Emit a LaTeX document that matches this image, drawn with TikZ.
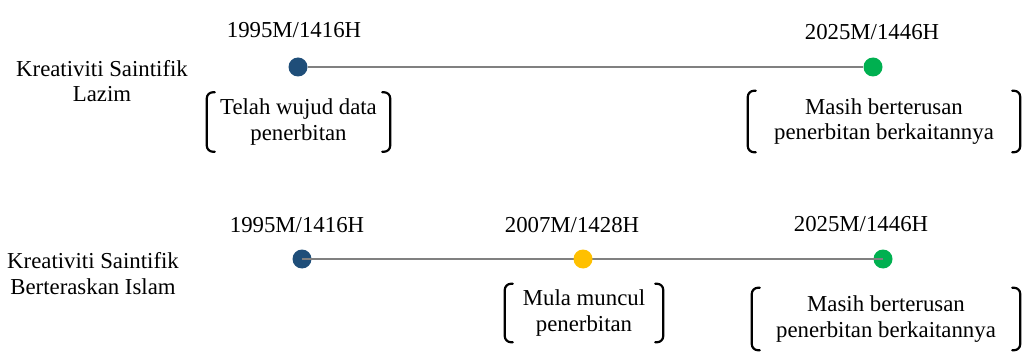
\documentclass[tikz,border=0pt]{standalone}
\usepackage{fontspec}
\setmainfont{Liberation Serif}
\usetikzlibrary{positioning}
\definecolor{biru}{HTML}{1F4E79}
\definecolor{hijau}{HTML}{00B050}
\definecolor{kuning}{HTML}{FFC000}
\definecolor{kelabu}{HTML}{808080}
\tikzset{titik/.style={circle, inner sep=0pt, minimum size=19pt, fill=#1}}
\tikzset{garis/.style={draw=kelabu, line width=2.5pt}}
\tikzset{teks0/.style={inner sep=0pt, align=center, font=\fontsize{22.8}{25.5}\selectfont}}
\tikzset{isi/.style args={#1/#2}{teks0, minimum width=#1, minimum height=#2}}
\tikzset{kurung/.style={draw, line width=2.2pt, rounded corners=6pt, line cap=round}}

\begin{document}
\begin{tikzpicture}[x=1pt,y=1pt]
			\useasboundingbox (0,0) rectangle (1022,351);
			% baris pertama
			\node[teks0] (n1) at (102,270) {Kreativiti Saintifik\\Lazim};
			\node[titik=biru] (b1) at (298,284) {};
			\node[titik=hijau] (g1) at (873,284) {};
			\draw[garis] (b1) -- (g1);
			\node[teks0] (t1) at (294,321) {1995M/1416H};
			\node[teks0] (t2) at (872,318.5) {2025M/1446H};
			\node[isi=183pt/59pt] (k1) at (298.5,229) {Telah wujud data\\penerbitan};
			\node[isi=272pt/61pt] (k2) at (884,229.5) {Masih berterusan\\penerbitan berkaitannya};
			% baris kedua
			\node[teks0] (n2) at (93,77.5) {Kreativiti Saintifik\\Berteraskan Islam};
			\node[titik=biru] (b2) at (302,92) {};
			\node[titik=hijau] (g2) at (883,92) {};
			\draw[garis] (b2.center) -- (g2.center);
			\node[titik=kuning] (y2) at (583,92) {};
			\node[teks0] (t3) at (297,125.5) {1995M/1416H};
			\node[teks0] (t4) at (572,125.5) {2007M/1428H};
			\node[teks0] (t5) at (861,126.5) {2025M/1446H};
			\node[isi=158pt/58pt] (k3) at (584,38) {Mula muncul\\penerbitan};
			\node[isi=268pt/62pt] (k4) at (886,32) {Masih berterusan\\penerbitan berkaitannya};
			% kurungan
			\foreach \k in {k1,k2,k3,k4} {
				\draw[kurung] ([xshift=8pt]\k.north west) -- (\k.north west) -- (\k.south west) -- ([xshift=8pt]\k.south west);
				\draw[kurung] ([xshift=-8pt]\k.north east) -- (\k.north east) -- (\k.south east) -- ([xshift=-8pt]\k.south east);
			}
		\end{tikzpicture}
\end{document}
